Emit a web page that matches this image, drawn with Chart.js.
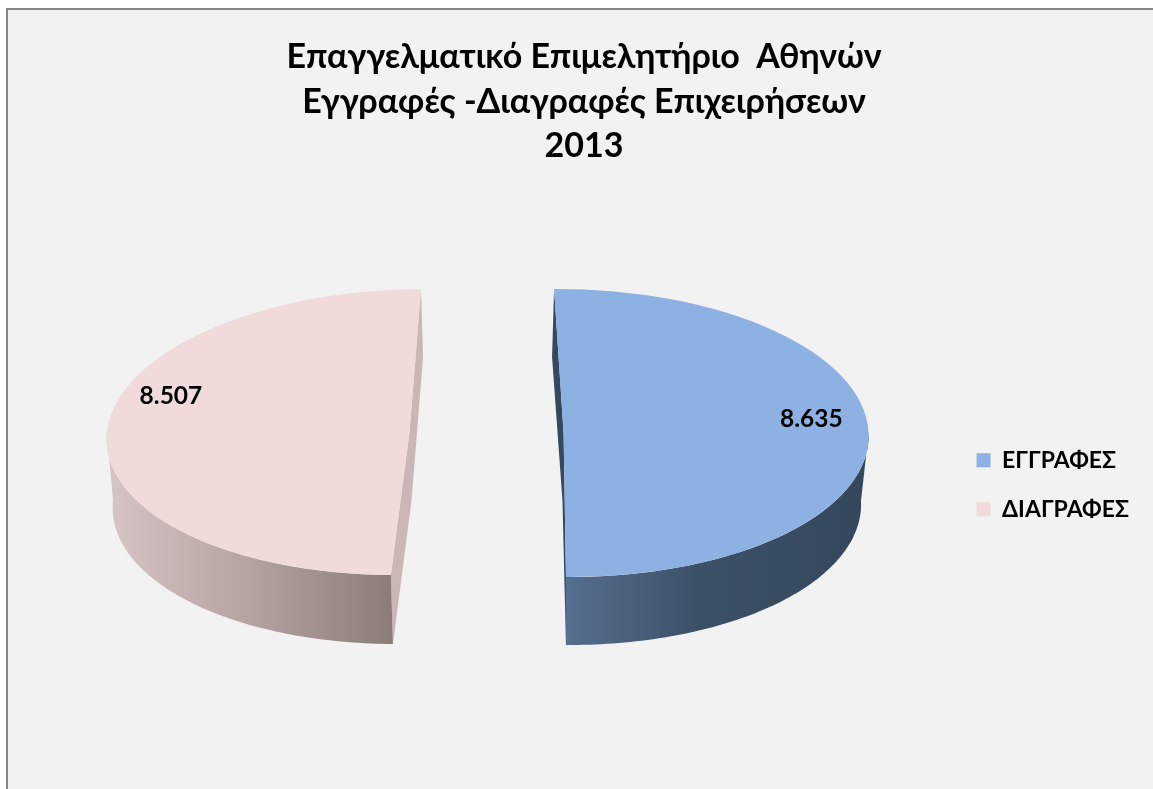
<!DOCTYPE html>
<html><head><meta charset="utf-8">
<style>
html,body{margin:0;padding:0;background:#fff;overflow:hidden}
#frame{position:absolute;left:6px;top:8px;width:1147px;height:781px;box-sizing:border-box;border-left:2px solid #868686;border-top:2px solid #868686;background:#f2f2f2}
canvas{position:absolute;left:8px;top:0}
</style>
<script src="https://cdn.jsdelivr.net/npm/chart.js@4"></script>
</head><body>
<div id="frame"><canvas id="c" width="1137" height="779"></canvas></div>
<script>
const titleLines = ['Επαγγελματικό Επιμελητήριο  Αθηνών','Εγγραφές -Διαγραφές Επιχειρήσεων','2013'];
const categories = ['ΕΓΓΡΑΦΕΣ','ΔΙΑΓΡΑΦΕΣ'];
const values = [8635, 8507];
const valueLabels = ['8.635','8.507'];
const sliceColors = ['#8db1e2','#f0dada'];
const cutWallColors = ['#35485e','#c9b6b5'];
const wallStops = [
  [[0,'#566f8f'],[0.45,'#3c5068'],[1,'#34475c']],
  [[0,'#d6c3c3'],[0.5,'#b3a2a0'],[1,'#8b7c79']]
];
const OX = 16, OY = 10, FONT = 'Lato, "Open Sans"';
const topFace = [{cx:563.6,cy:433,rx:305,ry:144,k:0.0417},{cx:409.5,cy:432,rx:302.5,ry:143,k:-0.105}];
const botFace = [{cx:562.5,cy:501,rx:298.5,ry:144,k:0.0486},{cx:411.5,cy:500.5,rx:298.5,ry:143.5,k:-0.1045}];
const wallSpan = [[566,862],[113,393]];
const labelPolar = [{a:-6.8,r:0.82},{a:197.5,r:0.84}];

function proj(f,theta,r){const u=Math.cos(theta)*r,v=Math.sin(theta)*r;
  return [f.cx-OX+f.rx*u+f.k*f.ry*v, f.cy-OY+f.ry*v];}

const pie3d = {
  id:'pie3d',
  beforeDatasetDraw(chart,args){
    const ctx=chart.ctx, els=chart.getDatasetMeta(args.index).data;
    els.forEach((el,i)=>{
      const p=el.getProps(['x','y','startAngle','endAngle','outerRadius'],true);
      const T=topFace[i],B=botFace[i];
      ctx.fillStyle=cutWallColors[i];
      ctx.beginPath();
      [[T,p.startAngle,1],[B,p.startAngle,1],[B,0,0],[B,p.endAngle,1],[T,p.endAngle,1],[T,0,0]].forEach(([f,a,r],n)=>{
        const q=proj(f,a,r); n?ctx.lineTo(q[0],q[1]):ctx.moveTo(q[0],q[1]);});
      ctx.closePath();ctx.fill();
      const from=i===0?0:p.startAngle, to=i===0?p.endAngle:Math.PI;
      const g=ctx.createLinearGradient(wallSpan[i][0]-OX,0,wallSpan[i][1]-OX,0);
      wallStops[i].forEach(s=>g.addColorStop(s[0],s[1]));
      ctx.fillStyle=g;
      ctx.beginPath();
      const N=80;
      for(let n=0;n<=N;n++){const q=proj(T,from+(to-from)*n/N,1);n?ctx.lineTo(q[0],q[1]):ctx.moveTo(q[0],q[1]);}
      for(let n=N;n>=0;n--){const q=proj(B,from+(to-from)*n/N,1);ctx.lineTo(q[0],q[1]);}
      ctx.closePath();ctx.fill();
      ctx.save();
      const R=p.outerRadius,a=T.rx/R,c=T.k*T.ry/R,d=T.ry/R;
      ctx.transform(a,0,c,d,(T.cx-OX)-a*p.x-c*p.y,(T.cy-OY)-d*p.y);
      el.draw(ctx);
      ctx.restore();
      const lp=proj(T,labelPolar[i].a*Math.PI/180,labelPolar[i].r);
      ctx.fillStyle='#000';ctx.font='700 24.5px '+FONT;ctx.textAlign='center';ctx.textBaseline='middle';
      ctx.fillText(valueLabels[i],lp[0],lp[1]);
    });
    return false;
  }
};

new Chart(document.getElementById('c'),{
  type:'pie',
  data:{labels:categories,datasets:[{data:values,backgroundColor:sliceColors,borderWidth:0}]},
  plugins:[pie3d],
  options:{
    responsive:false,animation:false,rotation:-0.66,
    layout:{padding:{left:13,right:14,bottom:6}},
    plugins:{
      tooltip:{enabled:false},
      title:{display:true,text:titleLines,color:'#000',font:{family:FONT,size:34,weight:'700',lineHeight:1.31},padding:{top:25,bottom:18}},
      legend:{position:'right',fullSize:false,labels:{boxWidth:14,boxHeight:14,color:'#000',padding:26,font:{family:FONT,size:23,weight:'700'}}}
    }
  }
});
</script>
</body></html>
